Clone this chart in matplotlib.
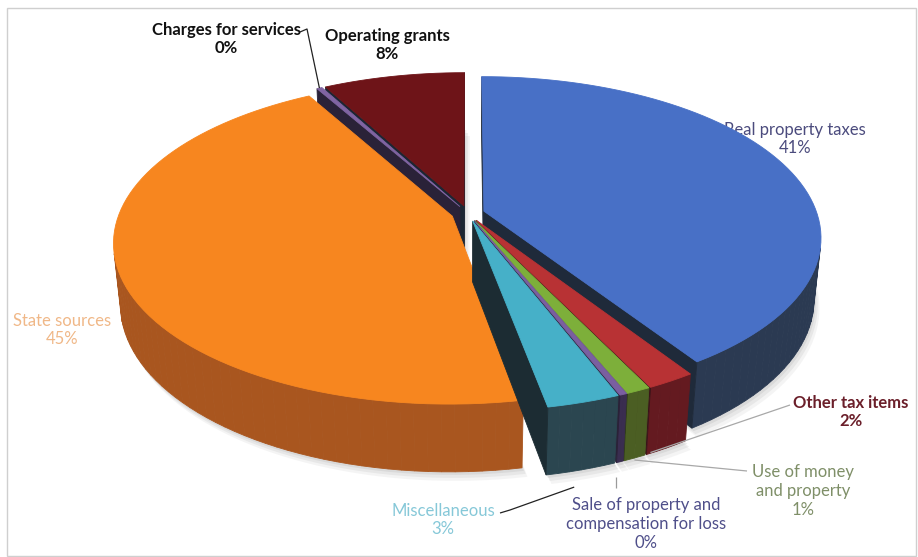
import numpy as np
import matplotlib
matplotlib.use("Agg")
import matplotlib.pyplot as plt
from matplotlib.patches import Polygon, Rectangle

# ---------------- data ----------------
categories = ["Real property taxes", "Other tax items", "Use of money\nand property",
              "Sale of property and\ncompensation for loss", "Miscellaneous",
              "State sources", "Charges for services", "Operating grants"]
values = [41, 2, 1, 0.3, 3, 45, 0.3, 8]
pct_labels = ["41%", "2%", "1%", "0%", "3%", "45%", "0%", "8%"]
top_colors = ["#4870C6", "#B83234", "#7DAF3A", "#7A5FA0", "#46B0C8", "#F7861F", "#8064A2", "#6E1418"]
wall_colors = ["#2B3A52", "#641A20", "#4B5E23", "#3A2D50", "#2B4650", "#A9561F", "#3A2D50", "#3A0C10"]
radial_colors = ["#1F2A3A", "#3A1418", "#2E3A18", "#2A2238", "#1C2C33", "#6A3612", "#2A2238", "#1C2633"]
label_colors = ["#4B4B7D", "#6B1F2A", "#7F8F68", "#4F4F8A", "#86C8D8", "#F0B888", "#111111", "#111111"]

# ---------------- layout ----------------
W, H = 918, 557
fig = plt.figure(figsize=(W / 100, H / 100), dpi=100)
ax = fig.add_axes([0, 0, 1, 1])
ax.set_xlim(0, W)
ax.set_ylim(H, 0)
ax.axis("off")

elev = np.radians(30)
D = 5.5
h = 0.21
F = 1797
cx, cy = 468, 274
explode = 0.05
C = D * np.array([0, -np.cos(elev), np.sin(elev)])
fwd = np.array([0, np.cos(elev), -np.sin(elev)])
rgt = np.array([1.0, 0, 0])
up = np.array([0, np.sin(elev), np.cos(elev)])


def proj(P):
    v = np.asarray(P) - C
    zc = v @ fwd
    return (cx + F * (v @ rgt) / zc, cy - F * (v @ up) / zc)


def depth(P):
    return (np.asarray(P) - C) @ fwd


total = sum(values)
angles = np.cumsum([0] + values) / total * 360.0

slices = []
for i, v in enumerate(values):
    a, b = angles[i], angles[i + 1]
    mid = np.radians((a + b) / 2)
    ox, oy = explode * np.sin(mid), explode * np.cos(mid)
    th = np.radians(np.linspace(a, b, max(3, int((b - a) / 2) + 2)))
    rim = np.c_[ox + np.sin(th), oy + np.cos(th)]
    cen = np.array([ox, oy])
    faces = []
    for k in range(len(th) - 1):
        tm = (th[k] + th[k + 1]) / 2
        n = np.array([np.sin(tm), np.cos(tm), 0])
        p0 = np.r_[rim[k], h]
        if n @ (C - p0) > 0:
            quad = [np.r_[rim[k], h], np.r_[rim[k + 1], h], np.r_[rim[k + 1], 0], np.r_[rim[k], 0]]
            faces.append((quad, wall_colors[i]))
    ar, br = np.radians(a), np.radians(b)
    for n, pt in [(np.array([-np.cos(ar), np.sin(ar), 0]), rim[0]),
                  (np.array([np.cos(br), -np.sin(br), 0]), rim[-1])]:
        p0 = np.r_[cen, h]
        if n @ (C - p0) > 0:
            quad = [np.r_[cen, h], np.r_[pt, h], np.r_[pt, 0], np.r_[cen, 0]]
            faces.append((quad, radial_colors[i]))
    top = [np.r_[cen, h]] + [np.r_[p, h] for p in rim]
    bottom = [np.r_[cen, 0]] + [np.r_[p, 0] for p in rim]
    centroid = np.r_[cen + 0.6 * np.array([np.sin(mid), np.cos(mid)]), h / 2]
    slices.append((depth(centroid), i, faces, top, bottom))

# soft shadow beneath the pie
for d, i, faces, top, bottom in slices:
    pts = [proj(p) for p in bottom]
    for off, al in [(9, 0.10), (6, 0.14), (3, 0.18)]:
        ax.add_patch(Polygon([(x + off * 0.6, y + off) for x, y in pts], closed=True,
                             facecolor="#9a9a9a", edgecolor="none", alpha=al, zorder=2))

z = 3
for d, i, faces, top, bottom in sorted(slices, key=lambda s: -s[0]):
    for quad, col in faces:
        ax.add_patch(Polygon([proj(p) for p in quad], closed=True, facecolor=col,
                             edgecolor=col, lw=0.6, zorder=z))
    z += 0.01
    ax.add_patch(Polygon([proj(p) for p in top], closed=True, facecolor=top_colors[i],
                         edgecolor=top_colors[i], lw=0.6, zorder=z))
    z += 0.01

# ---------------- labels ----------------
font = "Lato"
fs = 12
label_pos = {
    0: (795, 139, "normal", 1),
    1: (851, 412, "bold", 10),
    2: (803, 491, "normal", 10),
    3: (646, 524, "normal", 10),
    4: (443, 520, "normal", 10),
    5: (62, 330, "normal", 10),
    6: (226, 39, "bold", 10),
    7: (387, 45, "bold", 10),
}
for i, (x, y, wt, zz) in label_pos.items():
    txt = categories[i] + "\n" + pct_labels[i]
    ax.text(x, y, txt, ha="center", va="center", fontsize=fs, family=font, fontweight=wt,
            color=label_colors[i], linespacing=1.2, zorder=zz)


def rim_point(i, frac, zlev=h):
    a, b = angles[i], angles[i + 1]
    mid = np.radians((a + b) / 2)
    t = np.radians(a + frac * (b - a))
    p = np.array([explode * np.sin(mid) + np.sin(t), explode * np.cos(mid) + np.cos(t), zlev])
    return proj(p)


def leader(pts, color, lw=0.9):
    xs, ys = zip(*pts)
    ax.plot(xs, ys, color=color, lw=lw, zorder=10, solid_capstyle="butt")


rp = rim_point(6, 0.5)
leader([(300, 32), (307, 29), rp], "#222222")
mp = rim_point(4, 0.6, 0)
leader([(500, 513), (510, 510), (mp[0], mp[1] + 16)], "#222222")
leader([(616, 477), (616, 488)], "#9a9a9a")
up_ = rim_point(2, 0.5, 0)
leader([(747, 471), (up_[0], up_[1] + 2)], "#a8a8a8")
op = rim_point(1, 1.0, 0)
leader([(790, 405), (op[0] + 4, op[1] - 2)], "#a8a8a8")

ax.add_patch(Rectangle((7, 8), 909, 548, fill=False, edgecolor="#cfcfcf", lw=1, zorder=0))

fig.savefig("out.png", dpi=100)
